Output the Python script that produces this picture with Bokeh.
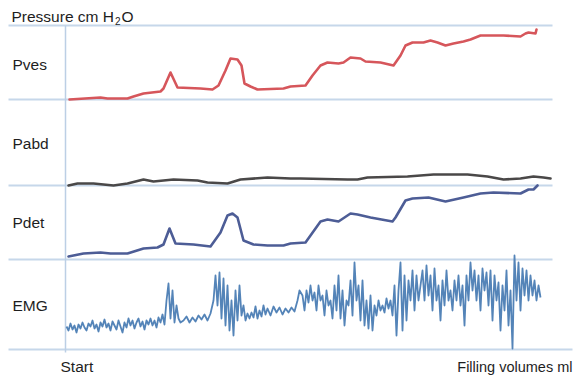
from bokeh.plotting import figure
from bokeh.models import Range1d
from bokeh.core.properties import value
from bokeh.embed import file_html
from bokeh.resources import INLINE

# ---------------- data (x = filling progress, arbitrary units; values = pressure above panel baseline) ----
pves_x = [4, 35, 42, 62, 68, 78, 95, 98, 105, 112, 135, 147, 153, 160, 165, 172, 176, 179, 185, 192,
          218, 225, 240, 247, 255, 262, 273, 278, 285, 295, 300, 315, 328, 335, 340, 347, 358, 365,
          372, 380, 388, 398, 405, 415, 438, 455, 460, 463, 470, 471]
pves_y = [0, 2, 1, 1, 3, 6, 8, 11, 27, 12, 11, 10, 14, 29, 41, 40, 34, 16, 13, 10,
          11, 13, 14, 24, 34, 37, 36, 37, 42, 41, 38, 37, 34, 44, 54, 57, 57, 59,
          57, 54, 56, 58, 60, 64, 64, 63, 66, 67, 66, 70]

pabd_x = [3, 12, 28, 48, 62, 78, 88, 108, 132, 142, 162, 175, 202, 225, 235, 282, 292, 302, 342,
          368, 402, 422, 438, 455, 468, 478, 485]
pabd_y = [0, 2, 2, 0, 2, 6, 4, 6, 5, 3, 2, 6, 8, 7, 7, 6, 6, 8, 9,
          11, 11, 9, 6, 7, 9, 8, 7]

pdet_x = [3, 18, 35, 45, 62, 78, 92, 98, 104, 110, 128, 145, 155, 162, 167, 172, 178, 188, 202, 218,
          225, 240, 255, 262, 273, 285, 292, 305, 327, 330, 340, 347, 363, 380, 398, 415, 428, 455,
          463, 468, 472]
pdet_y = [3, 6, 7, 6, 6, 11, 12, 15, 31, 16, 15, 13, 27, 44, 46, 42, 19, 15, 14, 14,
          16, 17, 38, 40, 38, 46, 45, 42, 38, 42, 59, 61, 62, 58, 62, 66, 67, 66,
          70, 70, 74]

emg_x = [1, 3, 5, 7, 9, 11, 13, 15, 17, 19, 21, 23, 25, 27, 29, 31, 33, 35, 37, 39,
         41, 43, 45, 47, 49, 51, 53, 55, 57, 59, 61, 63, 65, 67, 69, 71, 73, 75, 77, 79,
         81, 83, 85, 87, 89, 91, 93, 95, 97, 99, 101, 103, 105, 107, 109, 111, 113, 115,
         118, 121, 124, 127, 130, 133, 136, 139, 142, 145, 148, 150, 152, 154, 156, 158, 160,
         162, 164, 166, 168, 170, 172, 174, 176, 178, 180, 182, 184, 186, 188, 190, 192, 194,
         196, 198, 200, 202, 205, 208, 211, 214, 217, 220, 223, 226, 229, 232, 234,
         237, 239, 241, 243, 245, 247, 249, 251, 253, 255, 257, 259, 261, 263, 265, 267, 269,
         271, 273, 275, 277, 279, 281, 283, 285, 287, 289, 291, 293, 295, 297, 299, 301, 303,
         305, 307, 309, 311, 313, 315, 317, 319, 321, 323, 325, 327, 329, 331, 333, 335, 337,
         339, 341, 343, 345, 347, 349, 351, 353,
         355, 357, 359, 361, 363, 365, 367, 369, 371, 373, 375, 377, 379, 381, 383, 385, 387,
         389, 391, 393, 395, 397, 399, 401, 403, 405, 407, 409, 411, 413, 415, 417, 419, 421,
         423, 425, 427, 429, 431, 433, 435, 437, 439, 441, 443, 445, 447, 449, 451, 453, 455,
         457, 459, 461, 463, 465, 467, 469, 471, 473, 475]
emg_y = [-1, -5, 2, -4, 0, -7, 1, -3, 3, -2, -5, 2, -1, 5, -3, 1, -6, 3, -1, 6,
         -2, 2, -5, 4, 0, -4, 5, -1, -7, 3, -2, 7, 0, 5, -3, 3, 7, -1, 4, -4,
         5, 1, 7, 0, 5, -2, 8, 3, 11, 1, 25, 42, 7, 35, 3, 20, 7, 3,
         5, 9, 3, 8, 4, 10, 6, 11, 5, 12, 25, 50, 20, 53, 7, 47, 0,
         40, -5, 25, -10, 35, 5, 40, 10, 20, 5, 12, 7, 13, 8, 19, 7, 15,
         9, 20, 11, 17, 10, 19, 13, 18, 11, 17, 13, 18, 14, 25, 35,
         30, 15, 35, 23, 40, 25, 33, 15, 40, 25, 30, 10, 35, 20, 25, 7, 40,
         15, 50, 7, 35, 0, 25, 20, 45, 10, 63, 25, 40, 5, 45, 0, 25, -3,
         30, -5, 20, 10, 25, 15, 20, 13, 27, 17, 25, 10, 40, -10, 35, 63, -5,
         50, 5, 45, 25, 55, 15, 50, 25,
         40, 55, 25, 60, 30, 50, 15, 57, 25, 40, 5, 45, 20, 55, 25, 35, 15,
         45, 25, 50, 20, 40, 0, 50, 25, 63, 35, 55, 25, 50, 15, 57, 35, 53,
         20, 55, 5, 50, 25, 43, -5, 40, 15, 55, 0, 35, -23, 70, 25, 63, 15,
         57, 30, 55, 25, 50, 30, 45, 25, 40, 28]

labels = ["Pves", "Pabd", "Pdet", "EMG"]
title_text = "Pressure cm H"
x_start_label = "Start"
x_end_label = "Filling volumes ml"

# ---------------- layout / style ----------------
W, H = 577, 375
baselines = {"Pves": 276, "Pabd": 190, "Pdet": 116, "EMG": 50}
label_y = {"Pves": 311, "Pabd": 232, "Pdet": 153, "EMG": 70}
grid_y = [350, 276, 190, 116]
colors = {"Pves": "#d6565b", "Pabd": "#4a4848", "Pdet": "#4d5d96", "EMG": "#5484b8"}
FONT = value("Liberation Sans")
TXT = "#1e1e1e"
GRID = "#c6d7ea"

p = figure(width=W, height=H, output_backend="svg", toolbar_location=None,
           x_range=Range1d(-65, 512), y_range=Range1d(0, 375),
           min_border=0, min_border_left=0, min_border_right=0,
           min_border_top=0, min_border_bottom=0)
p.axis.visible = False
p.xgrid.visible = False
p.ygrid.visible = False
p.outline_line_color = None
p.background_fill_color = "white"
p.border_fill_color = "white"

# panel separators
p.segment(x0=[-57] * len(grid_y), y0=grid_y, x1=[487] * len(grid_y), y1=grid_y,
          line_color=GRID, line_width=2)
p.segment(x0=[-57], y0=[26], x1=[507], y1=[26], line_color=GRID, line_width=2)
p.segment(x0=[0], y0=[350], x1=[0], y1=[23], line_color="#bccfe5", line_width=1.5)

def shifted(vals, base):
    return [base + v for v in vals]

p.line(emg_x, shifted(emg_y, baselines["EMG"]), line_color=colors["EMG"], line_width=1.8,
       line_join="round")
p.line(pdet_x, shifted(pdet_y, baselines["Pdet"]), line_color=colors["Pdet"], line_width=2.6,
       line_join="round", line_cap="round")
p.line(pabd_x, shifted(pabd_y, baselines["Pabd"]), line_color=colors["Pabd"], line_width=2.6,
       line_join="round", line_cap="round")
p.line(pves_x, shifted(pves_y, baselines["Pves"]), line_color=colors["Pves"], line_width=2.6,
       line_join="round", line_cap="round")

# labels
p.text(x=[-53] * 4, y=[label_y[k] for k in labels], text=labels, text_font=FONT,
       text_font_size="15.5px", text_color=TXT, text_baseline="alphabetic")
p.text(x=[-54], y=[359], text=[title_text], text_font=FONT, text_font_size="15.5px",
       text_color=TXT, text_baseline="alphabetic")
p.text(x=[49.5], y=[355], text=["2"], text_font=FONT, text_font_size="10px",
       text_color=TXT, text_baseline="alphabetic")
p.text(x=[56], y=[359], text=["O"], text_font=FONT, text_font_size="15.5px",
       text_color=TXT, text_baseline="alphabetic")
p.text(x=[-5], y=[9], text=[x_start_label], text_font=FONT, text_font_size="15.5px",
       text_color=TXT, text_baseline="alphabetic")
p.text(x=[507], y=[9], text=[x_end_label], text_font=FONT, text_font_size="14.5px",
       text_color=TXT, text_baseline="alphabetic", text_align="right")

open("out.html", "w").write(file_html(p, INLINE))
